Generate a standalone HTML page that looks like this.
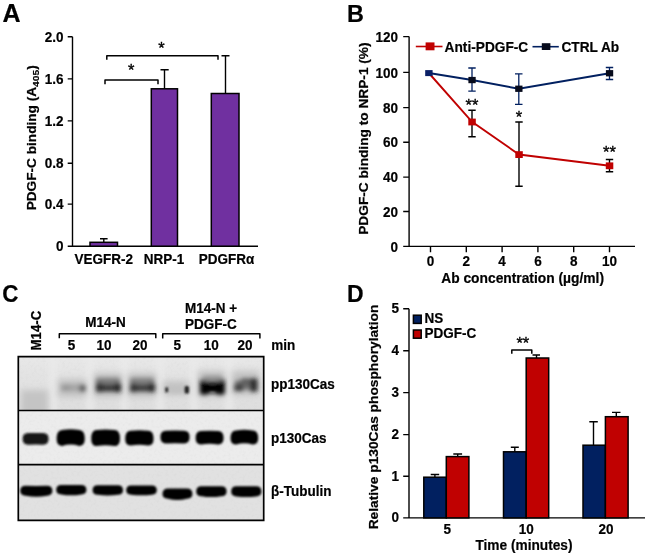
<!DOCTYPE html>
<html><head><meta charset="utf-8">
<style>
html,body{margin:0;padding:0;background:#fff;}
svg{display:block;}
text{font-family:"Liberation Sans",sans-serif;font-weight:bold;font-size:13.5px;fill:#000;stroke:#000;stroke-width:0.22px;}
.pl{font-size:25px;}
.st{font-size:16.5px;font-weight:normal;stroke-width:0.35px;}
.ax{stroke:#000;stroke-width:1.4;fill:none;}
.eb{stroke:#000;stroke-width:1.4;fill:none;}
.br{stroke:#000;stroke-width:1.5;fill:none;stroke-linejoin:round;}
.pb{fill:#7030a0;stroke:#000;stroke-width:1.5;}
.bb{fill:#002060;stroke:#000;stroke-width:1.5;}
.rb{fill:#c00000;stroke:#000;stroke-width:1.5;}
</style></head>
<body>
<svg width="650" height="559" viewBox="0 0 650 559">
<rect width="650" height="559" fill="#fff"></rect>
<g style="opacity:0.9999">
<!-- PANEL A -->
<g id="pA">
<text class="pl" x="2.5" y="22">A</text>
<path class="ax" d="M72.5 36.7V246.2M67.7 246.2H258M67.7 36.7H72.5M67.7 78.9H72.5M67.7 120.9H72.5M67.7 163.2H72.5M67.7 204.1H72.5"></path>
<g text-anchor="end">
<text x="63.5" y="41.5" textLength="18.78" lengthAdjust="spacingAndGlyphs" style="font-size: 14.99px;">2.0</text>
<text x="63.5" y="83.7" textLength="18.78" lengthAdjust="spacingAndGlyphs" style="font-size: 14.99px;">1.6</text>
<text x="63.5" y="125.7" textLength="18.78" lengthAdjust="spacingAndGlyphs" style="font-size: 14.99px;">1.2</text>
<text x="63.5" y="168.0" textLength="18.78" lengthAdjust="spacingAndGlyphs" style="font-size: 14.99px;">0.8</text>
<text x="63.5" y="208.9" textLength="18.78" lengthAdjust="spacingAndGlyphs" style="font-size: 14.99px;">0.4</text>
<text x="63.5" y="251.0" textLength="7.52" lengthAdjust="spacingAndGlyphs" style="font-size: 14.99px;">0</text>
</g>
<text transform="translate(35.8,137.8) rotate(-90)" text-anchor="middle" style="font-size: 12.79px;" textLength="145.11" lengthAdjust="spacingAndGlyphs">PDGF-C binding (A<tspan style="font-size:9.6px;stroke-width:0.15px" dy="3.3">405</tspan><tspan dy="-3.3">)</tspan></text>
<path class="eb" d="M103.8 242.3V238.8M100 238.8H107.6M164.5 88.8V69.8M160.5 69.8H168.7M225.5 93.5V55.7M221.5 55.7H229.5"></path>
<rect class="pb" x="90" y="242.3" width="27.5" height="3.9"></rect>
<rect class="pb" x="151.3" y="88.8" width="26.2" height="157.4"></rect>
<rect class="pb" x="211.3" y="93.5" width="27.7" height="152.7"></rect>
<path class="br" d="M106.8 59.7V55.7H218V59.7M105 84.2V80H158V84.2"></path>
<text class="st" x="161.5" y="54" text-anchor="middle">*</text>
<text class="st" x="131.2" y="76" text-anchor="middle">*</text>
<g text-anchor="middle">
<text x="103.8" y="263.5" textLength="58.52" lengthAdjust="spacingAndGlyphs" style="font-size: 14.99px;">VEGFR-2</text>
<text x="164" y="263.5" textLength="40.52" lengthAdjust="spacingAndGlyphs" style="font-size: 14.99px;">NRP-1</text>
<text x="226.5" y="263.5" textLength="55.56" lengthAdjust="spacingAndGlyphs" style="font-size: 14.99px;">PDGFRα</text>
</g>
</g>
<!-- PANEL B -->
<g id="pB">
<text class="pl" x="346.9" y="22" style="font-size:24.5px" textLength="16.9" lengthAdjust="spacingAndGlyphs">B</text>
<path class="ax" d="M409.1 36.6V246.4M403.2 246.4H635M403.2 36.6H409.1M403.2 72.4H409.1M403.2 107.6H409.1M403.2 142.3H409.1M403.2 177.1H409.1M403.2 211.5H409.1M430.5 246.4V252.2M466.3 246.4V252.2M502.1 246.4V252.2M537.9 246.4V252.2M573.7 246.4V252.2M609.5 246.4V252.2"></path>
<g text-anchor="end">
<text x="398" y="41.7" textLength="22.53" lengthAdjust="spacingAndGlyphs" style="font-size: 14.99px;">120</text>
<text x="398" y="77.5" textLength="22.53" lengthAdjust="spacingAndGlyphs" style="font-size: 14.99px;">100</text>
<text x="398" y="112.7" textLength="15.03" lengthAdjust="spacingAndGlyphs" style="font-size: 14.99px;">80</text>
<text x="398" y="147.4" textLength="15.03" lengthAdjust="spacingAndGlyphs" style="font-size: 14.99px;">60</text>
<text x="398" y="182.2" textLength="15.03" lengthAdjust="spacingAndGlyphs" style="font-size: 14.99px;">40</text>
<text x="398" y="216.6" textLength="15.03" lengthAdjust="spacingAndGlyphs" style="font-size: 14.99px;">20</text>
<text x="398" y="251.5" textLength="7.52" lengthAdjust="spacingAndGlyphs" style="font-size: 14.99px;">0</text>
</g>
<g text-anchor="middle">
<text x="430.5" y="266.2" textLength="7.52" lengthAdjust="spacingAndGlyphs" style="font-size: 14.99px;">0</text>
<text x="466.3" y="266.2" textLength="7.52" lengthAdjust="spacingAndGlyphs" style="font-size: 14.99px;">2</text>
<text x="502.1" y="266.2" textLength="7.52" lengthAdjust="spacingAndGlyphs" style="font-size: 14.99px;">4</text>
<text x="537.9" y="266.2" textLength="7.52" lengthAdjust="spacingAndGlyphs" style="font-size: 14.99px;">6</text>
<text x="573.7" y="266.2" textLength="7.52" lengthAdjust="spacingAndGlyphs" style="font-size: 14.99px;">8</text>
<text x="609.5" y="266.2" textLength="15.03" lengthAdjust="spacingAndGlyphs" style="font-size: 14.99px;">10</text>
<text x="522.6" y="283.2" style="font-size: 15.32px;" textLength="162.78" lengthAdjust="spacingAndGlyphs">Ab concentration (µg/ml)</text>
</g>
<text transform="translate(368.4,138.6) rotate(-90)" text-anchor="middle" style="font-size: 12.74px;" textLength="192.38" lengthAdjust="spacingAndGlyphs">PDGF-C binding to NRP-1 (%)</text>
<!-- legend -->
<path d="M415.8 46.5H442.5" stroke="#c00000" stroke-width="1.6"></path>
<rect x="425.6" y="42.4" width="8.9" height="7.9" fill="#c00000"></rect>
<text x="444.6" y="51.6" style="font-size: 15.21px;" textLength="83.64" lengthAdjust="spacingAndGlyphs">Anti-PDGF-C</text>
<path d="M532.5 46.7H558.8" stroke="#002060" stroke-width="1.6"></path>
<rect x="541.8" y="43.2" width="8.6" height="6.8" fill="#070b1c"></rect>
<text x="561.4" y="51.6" style="font-size: 15.21px;" textLength="57.80" lengthAdjust="spacingAndGlyphs">CTRL Ab</text>
<!-- error bars red series (black) -->
<path class="eb" d="M472 110.2V136.7M468.3 110.2H475.7M468.3 136.7H475.7M519 122V186.3M515.3 122H522.7M515.3 186.3H522.7M609.5 159.5V171.8M605.8 159.5H613.2M605.8 171.8H613.2"></path>
<!-- error bars ctrl (navy) -->
<path d="M472 68V91.2M468.3 68H475.7M468.3 91.2H475.7M518.8 73.8V104.3M515 73.8H522.5M515 104.3H522.5M609.5 67.5V79.5M605.8 67.5H613.2M605.8 79.5H613.2" stroke="#002060" stroke-width="1.3" fill="none"></path>
<path d="M428.8 73L472 121.8L519 154.5L609.5 165.8" stroke="#c00000" stroke-width="1.9" fill="none"></path>
<path d="M428.8 73L472 80L518.8 88.8L609.5 73.3" stroke="#002060" stroke-width="1.9" fill="none"></path>
<g fill="#c00000">
<rect x="468.3" y="118.6" width="7.5" height="6.8"></rect>
<rect x="515.3" y="151.2" width="7.5" height="6.8"></rect>
<rect x="605.8" y="162.4" width="7.5" height="6.8"></rect>
</g>
<rect x="425.2" y="70.1" width="7.4" height="6" fill="#0a1f66"></rect>
<g fill="#070b1c">
<rect x="468.4" y="76.9" width="7.3" height="6.3"></rect>
<rect x="515.2" y="85.6" width="7.3" height="6.3"></rect>
<rect x="605.9" y="70.1" width="7.3" height="6.3"></rect>
</g>
<g text-anchor="middle">
<text class="st" x="472" y="111">**</text>
<text class="st" x="519" y="122.7">*</text>
<text class="st" x="609.5" y="157.7">**</text>
</g>
</g>
<!-- PANEL C -->
<g id="pC">
<text class="pl" x="2.2" y="302" style="font-size:24px" textLength="16.2" lengthAdjust="spacingAndGlyphs">C</text>
<text class="keep" transform="translate(41.4,330.6) rotate(-90)" text-anchor="middle" style="font-size:14.9px" textLength="39.8" lengthAdjust="spacingAndGlyphs">M14-C</text>
<g text-anchor="middle">
<text x="105.5" y="326.7" textLength="40.52" lengthAdjust="spacingAndGlyphs" style="font-size: 14.99px;">M14-N</text>
<text x="71.4" y="350" textLength="7.52" lengthAdjust="spacingAndGlyphs" style="font-size: 14.99px;">5</text>
<text x="103.9" y="350" textLength="15.03" lengthAdjust="spacingAndGlyphs" style="font-size: 14.99px;">10</text>
<text x="140.1" y="350" textLength="15.03" lengthAdjust="spacingAndGlyphs" style="font-size: 14.99px;">20</text>
<text x="211" y="312.8" textLength="52.16" lengthAdjust="spacingAndGlyphs" style="font-size: 14.99px;">M14-N +</text>
<text x="210.9" y="329" textLength="51.75" lengthAdjust="spacingAndGlyphs" style="font-size: 14.99px;">PDGF-C</text>
<text x="177.3" y="350" textLength="7.52" lengthAdjust="spacingAndGlyphs" style="font-size: 14.99px;">5</text>
<text x="211.2" y="350" textLength="15.03" lengthAdjust="spacingAndGlyphs" style="font-size: 14.99px;">10</text>
<text x="245.1" y="350" textLength="15.03" lengthAdjust="spacingAndGlyphs" style="font-size: 14.99px;">20</text>
</g>
<path class="br" d="M59.3 338.2V333.8H155.8V338.2M162.7 338.4V333.8H259.9V338.4"></path>
<text x="271.2" y="350.2" textLength="24.02" lengthAdjust="spacingAndGlyphs" style="font-size: 14.99px;">min</text>
<text x="271" y="388.5" textLength="63.80" lengthAdjust="spacingAndGlyphs" style="font-size: 14.99px;">pp130Cas</text>
<text x="271" y="443.2" textLength="55.55" lengthAdjust="spacingAndGlyphs" style="font-size: 14.99px;">p130Cas</text>
<text x="271" y="496" textLength="60.47" lengthAdjust="spacingAndGlyphs" style="font-size: 14.99px;">β-Tubulin</text>
<defs>
<filter id="bl0" x="-30%" y="-80%" width="160%" height="260%"><feGaussianBlur stdDeviation="1.0"></feGaussianBlur></filter>
<filter id="bl1" x="-30%" y="-80%" width="160%" height="260%"><feGaussianBlur stdDeviation="1.2"></feGaussianBlur></filter>
<filter id="bl2" x="-40%" y="-100%" width="180%" height="300%"><feGaussianBlur stdDeviation="1.9"></feGaussianBlur></filter>
<filter id="bl3" x="-40%" y="-100%" width="180%" height="300%"><feGaussianBlur stdDeviation="3.2"></feGaussianBlur></filter>
<clipPath id="c1"><rect x="18.3" y="356.6" width="245.4" height="53.9"></rect></clipPath>
<clipPath id="c2"><rect x="18.3" y="410.5" width="245.4" height="54.2"></rect></clipPath>
<clipPath id="c3"><rect x="18.3" y="464.7" width="245.4" height="55.6"></rect></clipPath>
<filter id="nz" x="0" y="0" width="100%" height="100%"><feTurbulence type="fractalNoise" baseFrequency="0.35" numOctaves="2" seed="7" result="n"></feTurbulence><feColorMatrix type="matrix" values="0 0 0 0 0.5  0 0 0 0 0.5  0 0 0 0 0.5  0.9 0 0 0 -0.42"></feColorMatrix></filter>
<linearGradient id="g1" x1="0" y1="0" x2="0" y2="1"><stop offset="0" stop-color="#e8e8e8"></stop><stop offset="0.35" stop-color="#e3e3e3"></stop><stop offset="1" stop-color="#dedede"></stop></linearGradient>
</defs>
<rect x="18.3" y="356.6" width="245.4" height="53.9" fill="url(#g1)"></rect>
<rect x="18.3" y="410.5" width="245.4" height="54.2" fill="#ececec"></rect>
<rect x="18.3" y="464.7" width="245.4" height="55.6" fill="#e1e1e1"></rect>
<rect x="18.3" y="356.6" width="245.4" height="163.7" filter="url(#nz)" opacity="0.3"></rect>
<g clip-path="url(#c1)">
<g filter="url(#bl3)" fill="#ebebeb">
<rect x="50" y="348.6" width="6" height="69.9"></rect>
<rect x="87" y="348.6" width="6" height="69.9"></rect>
<rect x="121.5" y="348.6" width="6" height="69.9"></rect>
<rect x="157" y="348.6" width="6" height="69.9"></rect>
<rect x="191" y="348.6" width="6" height="69.9"></rect>
<rect x="226" y="348.6" width="6" height="69.9"></rect>
</g>
<g filter="url(#bl3)" fill="#c2c2c2">
<rect x="58" y="379" width="28" height="18"></rect>
<rect x="94" y="373" width="28" height="24"></rect>
<rect x="128" y="373" width="28" height="24"></rect>
<rect x="163" y="381" width="26" height="14"></rect>
<rect x="198" y="371" width="27" height="26"></rect>
<rect x="232" y="371" width="27" height="24"></rect>
<rect x="21" y="390" width="27" height="26" fill="#c4c4c4"></rect>
</g>
<g filter="url(#bl2)">
<rect x="61" y="384.5" width="24" height="6.5" rx="1.5" fill="#a4a4a4"></rect>
<rect x="62" y="385" width="8" height="5.5" rx="1.5" fill="#989898"></rect>
<rect x="79.5" y="385" width="6" height="6.5" rx="1.5" fill="#5c5c5c"></rect>
<rect x="96" y="378" width="24" height="8" rx="1.5" fill="#7c7c7c"></rect>
<rect x="96" y="384.5" width="25" height="7" rx="1.5" fill="#383838"></rect>
<rect x="96" y="383" width="7" height="9" rx="1.5" fill="#303030"></rect>
<rect x="114.5" y="383" width="6.5" height="9" rx="1.5" fill="#282828"></rect>
<rect x="130" y="378" width="24" height="8" rx="1.5" fill="#808080"></rect>
<rect x="130" y="384.5" width="25" height="7" rx="1.5" fill="#3c3c3c"></rect>
<rect x="130" y="383.5" width="7" height="8.5" rx="1.5" fill="#363636"></rect>
<rect x="148.5" y="383" width="6.5" height="9" rx="1.5" fill="#2c2c2c"></rect>
<rect x="170" y="388.5" width="13" height="3.5" rx="1.5" fill="#c0c0c0"></rect>
<rect x="200.5" y="381.5" width="24" height="11.5" rx="1.5" fill="#050505"></rect>
<rect x="200.2" y="379.5" width="8" height="15" rx="1.5" fill="#050505"></rect>
<rect x="216.3" y="379" width="8.2" height="15.5" rx="1.5" fill="#050505"></rect>
<rect x="203" y="376" width="19" height="5" rx="1.5" fill="#909090"></rect>
<rect x="235" y="380.5" width="22" height="9" rx="1.5" fill="#6c6c6c"></rect>
<rect x="234.3" y="384.5" width="9" height="6.5" rx="1.5" fill="#3c3c3c"></rect>
<rect x="250" y="378.5" width="7.5" height="13" rx="1.5" fill="#2e2e2e"></rect>
<rect x="241" y="378.5" width="9" height="4.5" rx="1.5" fill="#585858"></rect>
</g>
<g filter="url(#bl1)">
<rect x="165.2" y="387" width="3" height="5.5" rx="1.5" fill="#2a2a2a"></rect>
<rect x="184.6" y="386" width="4.4" height="7.6" rx="1.5" fill="#222222"></rect>
<rect x="209" y="383.5" width="7" height="2.2" rx="1.5" fill="#2a2a2a"></rect>
<rect x="209.5" y="392" width="6" height="1.6" rx="1.5" fill="#8a8a8a"></rect>
</g>
</g>
<g clip-path="url(#c2)" filter="url(#bl0)">
<path d="M22.6 439.0Q22.6 433.2 28.1 433.1Q35.6 432.9 43.1 433.1Q48.6 433.2 48.6 439.0Q48.6 444.7 43.1 444.7Q35.6 444.2 28.1 444.7Q22.6 444.7 22.6 439.0Z" fill="#141414"></path>
<path d="M56.6 438.6Q56.6 430.3 62.1 429.9Q70.7 428.7 79.3 429.9Q84.8 430.3 84.8 438.6Q84.8 446.1 79.3 445.9Q70.7 443.2 62.1 445.9Q56.6 446.1 56.6 438.6Z" fill="#030303"></path>
<path d="M91.2 438.4Q91.2 430.2 96.7 430.0Q105.6 429.2 114.5 430.0Q120.0 430.2 120.0 438.4Q120.0 446.2 114.5 446.1Q105.6 444.5 96.7 446.1Q91.2 446.2 91.2 438.4Z" fill="#030303"></path>
<path d="M125.2 438.5Q125.2 430.9 130.7 430.7Q139.4 429.9 148.1 430.7Q153.6 430.9 153.6 438.5Q153.6 445.6 148.1 445.5Q139.4 443.9 130.7 445.5Q125.2 445.6 125.2 438.5Z" fill="#030303"></path>
<path d="M160.4 437.1Q160.4 430.7 165.9 430.7Q175.0 430.5 184.1 430.7Q189.6 430.7 189.6 437.1Q189.6 443.4 184.1 443.4Q175.0 443.1 165.9 443.4Q160.4 443.4 160.4 437.1Z" fill="#030303"></path>
<path d="M195.6 438.1Q195.6 431.3 201.1 431.1Q209.6 430.5 218.1 431.1Q223.6 431.3 223.6 438.1Q223.6 444.5 218.1 444.4Q209.6 443.0 201.1 444.4Q195.6 444.5 195.6 438.1Z" fill="#030303"></path>
<path d="M230.5 438.0Q230.5 430.8 236.0 430.4Q244.3 429.2 252.7 430.4Q258.2 430.8 258.2 438.0Q258.2 444.6 252.7 444.4Q244.3 441.9 236.0 444.4Q230.5 444.6 230.5 438.0Z" fill="#030303"></path>
</g>
<g clip-path="url(#c3)" filter="url(#bl0)">
<path d="M20.2 491.1Q20.2 485.8 25.6 485.8Q36.3 486.0 47.0 485.8Q52.4 485.8 52.4 491.1Q52.4 495.2 47.0 495.7Q36.3 497.7 25.6 495.7Q20.2 495.2 20.2 491.1Z" fill="#030303"></path>
<path d="M56.2 489.9Q56.2 484.9 61.3 484.9Q71.3 485.1 81.3 484.9Q86.4 484.9 86.4 489.9Q86.4 494.0 81.3 494.4Q71.3 496.1 61.3 494.4Q56.2 494.0 56.2 489.9Z" fill="#030303"></path>
<path d="M92.6 490.2Q92.6 485.2 97.7 485.2Q107.8 485.4 117.9 485.2Q123.0 485.2 123.0 490.2Q123.0 494.5 117.9 494.8Q107.8 496.3 97.7 494.8Q92.6 494.5 92.6 490.2Z" fill="#030303"></path>
<path d="M126.2 490.2Q126.2 485.4 131.1 485.4Q141.5 485.6 151.9 485.4Q156.8 485.4 156.8 490.2Q156.8 494.4 151.9 494.7Q141.5 496.0 131.1 494.7Q126.2 494.4 126.2 490.2Z" fill="#030303"></path>
<path d="M162.5 493.9Q162.5 488.4 168.0 488.4Q177.4 488.6 186.9 488.4Q192.4 488.4 192.4 493.9Q192.4 498.3 186.9 498.7Q177.4 501.1 168.0 498.7Q162.5 498.3 162.5 493.9Z" fill="#030303"></path>
<path d="M196.2 491.4Q196.2 486.2 201.5 486.2Q211.4 486.4 221.2 486.2Q226.6 486.2 226.6 491.4Q226.6 495.9 221.2 496.2Q211.4 497.9 201.5 496.2Q196.2 495.9 196.2 491.4Z" fill="#030303"></path>
<path d="M231.2 491.4Q231.2 486.2 236.5 486.2Q246.3 486.4 256.0 486.2Q261.4 486.2 261.4 491.4Q261.4 496.1 256.0 496.4Q246.3 497.7 236.5 496.4Q231.2 496.1 231.2 491.4Z" fill="#030303"></path>
</g>
<path d="M18.3 356.6H263.7V520.3H18.3ZM18.3 410.5H263.7M18.3 464.7H263.7" stroke="#000" stroke-width="1.7" fill="none"></path>

</g>
<!-- PANEL D -->
<g id="pD">
<text class="pl" x="347" y="301.5" style="font-size:24.5px" textLength="16.6" lengthAdjust="spacingAndGlyphs">D</text>
<path class="ax" d="M409 308.8V517.9M403.2 517.9H645M403.2 308.8H409M403.2 350.7H409M403.2 392.6H409M403.2 434.6H409M403.2 476.2H409"></path>
<g text-anchor="end">
<text x="399" y="313.3" textLength="7.52" lengthAdjust="spacingAndGlyphs" style="font-size: 14.99px;">5</text>
<text x="399" y="355.2" textLength="7.52" lengthAdjust="spacingAndGlyphs" style="font-size: 14.99px;">4</text>
<text x="399" y="397.1" textLength="7.52" lengthAdjust="spacingAndGlyphs" style="font-size: 14.99px;">3</text>
<text x="399" y="439.1" textLength="7.52" lengthAdjust="spacingAndGlyphs" style="font-size: 14.99px;">2</text>
<text x="399" y="480.7" textLength="7.52" lengthAdjust="spacingAndGlyphs" style="font-size: 14.99px;">1</text>
<text x="399" y="522.4" textLength="7.52" lengthAdjust="spacingAndGlyphs" style="font-size: 14.99px;">0</text>
</g>
<text transform="translate(378.2,417) rotate(-90)" text-anchor="middle" style="font-size: 12.79px;" textLength="224.66" lengthAdjust="spacingAndGlyphs">Relative p130Cas phosphorylation</text>
<path class="eb" d="M434.9 477.2V474.5M430.7 474.5H439.2M457.7 456.6V454M453.3 454H462.1M514.8 451.8V447.3M510.8 447.3H518.8M536.5 358.5V355M532.5 355H540M593.5 445.2V421.7M589.3 421.7H597.8M616.3 416.7V412.4M612 412.4H620.5"></path>
<rect class="bb" x="423.8" y="477.2" width="22.5" height="40.7"></rect>
<rect class="rb" x="446.3" y="456.6" width="22.6" height="61.3"></rect>
<rect class="bb" x="503.5" y="451.8" width="22.7" height="66.1"></rect>
<rect class="rb" x="526.2" y="358" width="22.5" height="159.9"></rect>
<rect class="bb" x="583" y="445.2" width="22.4" height="72.7"></rect>
<rect class="rb" x="605.4" y="416.7" width="22.7" height="101.2"></rect>
<path class="br" d="M511.8 353.8V350H531.8V353.8"></path>
<text class="st" x="522.8" y="348.6" text-anchor="middle">**</text>
<rect class="bb" x="413.4" y="315.2" width="7.8" height="8.2"></rect>
<rect class="rb" x="413.4" y="330" width="7.8" height="8.2"></rect>
<text x="424.5" y="323.3" textLength="18.77" lengthAdjust="spacingAndGlyphs" style="font-size: 14.99px;">NS</text>
<text x="424.5" y="338" textLength="51.75" lengthAdjust="spacingAndGlyphs" style="font-size: 14.99px;">PDGF-C</text>
<g text-anchor="middle">
<text x="447.3" y="534.4" textLength="7.52" lengthAdjust="spacingAndGlyphs" style="font-size: 14.99px;">5</text>
<text x="526.3" y="534.4" textLength="15.03" lengthAdjust="spacingAndGlyphs" style="font-size: 14.99px;">10</text>
<text x="605.9" y="534.4" textLength="15.03" lengthAdjust="spacingAndGlyphs" style="font-size: 14.99px;">20</text>
<text x="524" y="550" style="font-size: 15.21px;" textLength="97.11" lengthAdjust="spacingAndGlyphs">Time (minutes)</text>
</g>
</g>
</g>
</svg>
</body></html>
